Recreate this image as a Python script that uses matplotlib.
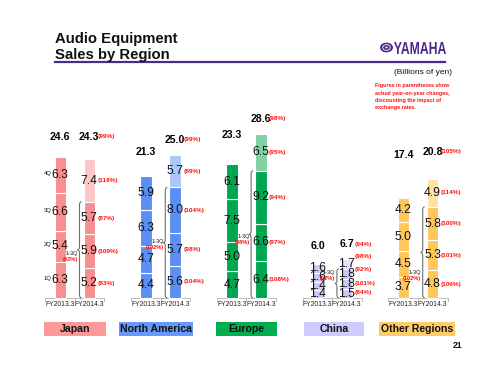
import matplotlib
matplotlib.use("Agg")
import matplotlib.pyplot as plt
from matplotlib.path import Path
from matplotlib.patches import PathPatch, Rectangle, Circle
from matplotlib.textpath import TextPath
from matplotlib.font_manager import FontProperties
from matplotlib.transforms import Affine2D

plt.rcParams['font.family'] = ['Liberation Sans', 'DejaVu Sans']

# ---------------- data ----------------
regions = ["Japan", "North America", "Europe", "China", "Other Regions"]
year_labels = ["FY2013.3", "FY2014.3"]
quarter_labels = ["1Q", "2Q", "3Q", "4Q"]
fy13_q = [[6.3, 5.4, 6.6, 6.3],
          [4.4, 4.7, 6.3, 5.9],
          [4.7, 5.0, 7.5, 6.1],
          [1.4, 1.4, 1.6, 1.6],
          [3.7, 4.5, 5.0, 4.2]]
fy14_q = [[5.2, 5.9, 5.7, 7.4],
          [5.6, 5.7, 8.0, 5.7],
          [6.4, 6.6, 9.2, 6.5],
          [1.5, 1.8, 1.8, 1.7],
          [4.8, 5.3, 5.8, 4.9]]
fy14_pct = [[83, 109, 87, 118],
            [104, 98, 104, 89],
            [108, 97, 94, 95],
            [84, 101, 92, 98],
            [106, 101, 100, 114]]
fy13_total = [24.6, 21.3, 23.3, 6.0, 17.4]
fy14_total = [24.3, 25.0, 28.6, 6.7, 20.8]
total_pct = [99, 99, 98, 94, 105]
q13_pct = [92, 102, 98, 92, 102]

# ---------------- styles / layout ----------------
dark_cols = ["#F98E90", "#5B8FF3", "#00A650", "#C9C9F7", "#FFC75A"]
light_cols = ["#FCC5C6", "#ABC6F8", "#80D2A2", "#E4E4FB", "#FFE2A4"]
box_cols = ["#FF9999", "#6699FF", "#00B050", "#CCCCFF", "#FFCC66"]
box_px = [(44, 106), (119, 193), (216, 277), (304, 364), (379, 455)]
# label heights (data units) chosen to mimic slide layout
tot13_y = [28.1, 25.5, 28.4, 9.1, 25.0]
tot14_y = [28.1, 27.6, 31.3, 9.4, 25.5]
q13_lbl_y = [7.85, 9.8, 10.8, 4.4, 4.5]
china_pct_y = [0.9, 2.6, 4.9, 7.2]

W, H = 500, 375
fig = plt.figure(figsize=(5, 3.75), dpi=100)
fig.patch.set_facecolor("white")

PXU = 85.8      # px per group
PYU = 5.73      # px per billion yen
BASE = 298      # baseline pixel row
X0 = 74.75      # pixel of first group centre

ax = fig.add_axes([0, 0, 1, 1])
ax.set_xlim(-X0 / PXU, (W - X0) / PXU)
ax.set_ylim((BASE - H) / PYU, BASE / PYU)
ax.axis("off")

def fx(px):
    return px / W

def fy(py):
    return 1 - py / H

dx_px = 1 / PXU   # data-x per pixel
dy_px = 1 / PYU   # data-y per pixel

off = 14.5 * dx_px
bw = 11.5 * dx_px

def brace(x0, y0, y1, w, r, **kw):
    ym = (y0 + y1) / 2
    xm = x0 - w / 2
    verts = [(x0, y0), (xm, y0), (xm, y0 + r),
             (xm, ym - r), (xm, ym), (x0 - w, ym),
             (xm, ym), (xm, ym + r),
             (xm, y1 - r), (xm, y1), (x0, y1)]
    codes = [Path.MOVETO, Path.CURVE3, Path.CURVE3,
             Path.LINETO, Path.CURVE3, Path.CURVE3,
             Path.CURVE3, Path.CURVE3,
             Path.LINETO, Path.CURVE3, Path.CURVE3]
    ax.add_patch(PathPatch(Path(verts, codes), fill=False, **kw))

for i, reg in enumerate(regions):
    c = i
    # baseline with ticks
    ax.plot([c - 0.345, c + 0.345], [0, 0], color="#BBBBBB", lw=0.7)
    for tx in (c - 0.345, c, c + 0.345):
        ax.plot([tx, tx], [0, -3 * dy_px], color="#BBBBBB", lw=0.7)

    for j, qs in enumerate([fy13_q[i], fy14_q[i]]):
        x = c - off if j == 0 else c + off
        bottom = 0
        for k, v in enumerate(qs):
            col = light_cols[i] if (j == 1 and k == 3) else dark_cols[i]
            ax.bar(x, v, bw, bottom=bottom, color=col, edgecolor="white",
                   linewidth=0.8, zorder=2)
            ax.text(x, bottom + v / 2, f"{v:.1f}", ha="center", va="center",
                    fontsize=8.7, color="#111111", zorder=4)
            if j == 1:
                py = china_pct_y[k] if reg == "China" else bottom + v / 2
                ax.text(x + bw / 2 + 2.5 * dx_px, py, f"({fy14_pct[i][k]}%)",
                        ha="left", va="center", fontsize=4.6,
                        fontweight="bold", color="#FF1010", zorder=4)
            if i == 0 and j == 0:
                ax.text(x - bw / 2 - 3 * dx_px, bottom + v / 2 + 0.3,
                        quarter_labels[k], ha="right", va="center",
                        fontsize=4.2, color="#111111")
            bottom += v
        # totals
        if j == 0:
            ax.text(x, tot13_y[i], f"{fy13_total[i]:.1f}", ha="center",
                    va="center", fontsize=7.6, fontweight="bold")
        else:
            ax.text(x, tot14_y[i], f"{fy14_total[i]:.1f}", ha="center",
                    va="center", fontsize=7.6, fontweight="bold")
            ax.text(x + bw / 2 + 2.5 * dx_px, tot14_y[i], f"({total_pct[i]}%)",
                    ha="left", va="center", fontsize=4.6, fontweight="bold",
                    color="#FF1010")
        ax.text(x, -6 * dy_px, year_labels[j], ha="center", va="center",
                fontsize=4.9, color="#222222")

    # 1-3Q brace on FY2014 bar
    xb = c + off - bw / 2 - 2 * dx_px
    top3 = sum(fy14_q[i][:3])
    brace(xb, 0, top3, 4 * dx_px, 3 * dy_px, edgecolor="#707070", lw=0.8,
          zorder=3)
    tip = xb - 4 * dx_px
    ax.text(tip + 0.5 * dx_px, q13_lbl_y[i], "1-3Q", ha="right", va="center",
            fontsize=4.0, color="#111111", zorder=5)
    ax.text(tip + 0.5 * dx_px, q13_lbl_y[i] - 1.05, f"({q13_pct[i]}%)",
            ha="right", va="center", fontsize=4.1, fontweight="bold",
            color="#FF1010", zorder=5)

    # region label boxes
    x_l, x_r = box_px[i]
    fig.patches.append(Rectangle((fx(x_l), fy(336)), fx(x_r - x_l),
                                 14 / H, transform=fig.transFigure,
                                 facecolor=box_cols[i], edgecolor="none"))
    fig.text(fx((x_l + x_r) / 2), fy(329), reg, ha="center", va="center",
             fontsize=7.6, fontweight="bold", color="#111111")

# ---------------- slide decorations ----------------
fig.text(fx(55), fy(43), "Audio Equipment", fontsize=10.7, fontweight="bold",
         va="baseline", ha="left", color="#111111")
fig.text(fx(55), fy(59), "Sales by Region", fontsize=10.7, fontweight="bold",
         va="baseline", ha="left", color="#111111")
fig.add_artist(plt.Line2D([fx(55), fx(445)], [fy(62.3), fy(62.3)],
                          transform=fig.transFigure, color="#4A2A8A", lw=1.6))

purple = "#4A2A8A"
fig.patches.append(Circle((fx(386.5), fy(47.5)), 6.5 / W,
                          transform=fig.transFigure, facecolor=purple,
                          edgecolor="none"))
fig.patches.append(Circle((fx(386.5), fy(47.5)), 3.8 / W,
                          transform=fig.transFigure, facecolor="none",
                          edgecolor="white", lw=0.6))
fig.patches.append(Circle((fx(386.5), fy(47.5)), 1.2 / W,
                          transform=fig.transFigure, facecolor="white",
                          edgecolor="none"))
tp = TextPath((0, 0), "YAMAHA", size=1,
              prop=FontProperties(family="Liberation Sans", weight="bold"))
bb = tp.get_extents()
sx = (446 - 394) / bb.width
sy = (54 - 42) / bb.height
trans = (Affine2D().translate(-bb.x0, -bb.y0).scale(sx / W, sy / H)
         .translate(fx(394), fy(54)) + fig.transFigure)
fig.patches.append(PathPatch(tp, transform=trans, facecolor=purple,
                             edgecolor="none"))

fig.text(fx(423), fy(73), "(Billions of yen)", ha="center", va="center",
         fontsize=6, color="#111111")
note = ["Figures in parentheses show", "actual year-on-year changes,",
        "discounting the impact of", "exchange rates."]
for n, line in enumerate(note):
    fig.text(fx(375), fy(86 + n * 7.3), line, ha="left", va="center",
             fontsize=3.9, fontweight="bold", color="#FF1010")

fig.text(fx(462), fy(345), "21", ha="right", va="center", fontsize=6.2,
         fontweight="bold", color="#111111")

fig.savefig("out.png", dpi=100, facecolor="white")
